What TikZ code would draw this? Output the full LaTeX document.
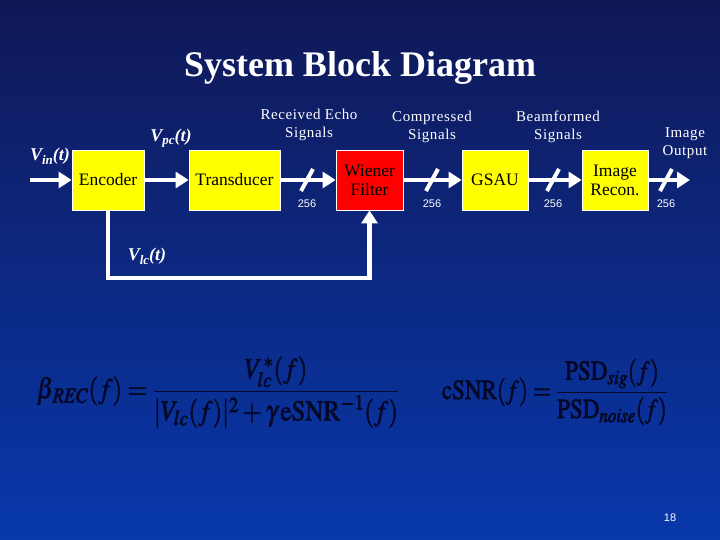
\documentclass[tikz,border=0pt]{standalone}
\usepackage{mathptmx}
\usepackage{amsmath}
\usepackage{fontspec}
\setmainfont{Liberation Serif}
\setsansfont{Liberation Sans}
\usetikzlibrary{arrows.meta}
\usetikzlibrary{calc}
\usetikzlibrary{positioning}

\definecolor{bgtop}{RGB}{16,24,86}
\definecolor{bgmid}{RGB}{10,50,160}
\definecolor{bgbot}{RGB}{8,56,172}
\definecolor{eqink}{RGB}{4,8,40}
\definecolor{blkyellow}{RGB}{255,255,0}
\definecolor{blkred}{RGB}{255,0,0}

% signal name with lowered bold italic index
\newcommand{\vsig}[1]{{\bfseries\itshape V\raisebox{-0.45ex}{\fontsize{13}{13}\selectfont #1}(t)}}
% heavier glyphs for the formulas (fill + stroke)
\newcommand{\heavy}[1]{\special{pdf:code 2 Tr 0.6 w}#1\special{pdf:code 0 Tr}}

\tikzset{
  blk/.style={draw=white, line width=0.8pt, fill=blkyellow, text=black, align=center,
    font=\fontsize{17.5}{19}\selectfont, minimum height=60pt, inner sep=0pt},
  flow/.style={draw=white, line width=4.5pt, line join=miter, -{Triangle[length=13pt,width=16pt]}},
  busmark/.style={draw=white, line width=4pt},
  hdr/.style={text=white, align=center, inner sep=0pt,
    font=\fontsize{15}{18}\selectfont\addfontfeatures{LetterSpace=4}},
  sig/.style={text=white, inner sep=0pt, font=\fontsize{18}{20}\selectfont},
  busnum/.style={text=white, inner sep=0pt, font=\sffamily\fontsize{11}{12}\selectfont},
  eqn/.style={text=eqink, inner sep=0pt}
}

\begin{document}
\begin{tikzpicture}[x=1pt,y=1pt,yscale=-1]
    % background
    \shade[top color=bgtop, middle color=bgmid, bottom color=bgbot] (0,0) rectangle (720,540);

    % Title
    \node[text=white, font=\bfseries\fontsize{36}{40}\selectfont] (title) at (360,68) {System Block Diagram};

    % Blocks
    \node[blk, minimum width=72pt] (enc) at (108,180) {Encoder};
    \node[blk, minimum width=91pt] (trans) at (234.5,180) {Transducer};
    \node[blk, minimum width=67pt, fill=blkred] (wf) at (369.5,180) {Wiener\\Filter};
    \node[blk, minimum width=66pt] (gsau) at (495,180) {GSAU};
    \node[blk, minimum width=66pt] (rec) at (615,180) {Image\\Recon.};

    \coordinate (in) at (30,180);
    \coordinate (out) at (690,180);
    \coordinate (fb) at (108,278);

    % Connectors
    \draw[flow] (in) -- (enc);
    \draw[flow] (enc) -- (trans);
    \draw[flow] (trans) -- (wf);
    \draw[flow] (wf) -- (gsau);
    \draw[flow] (gsau) -- (rec);
    \draw[flow] (rec) -- (out);
    \draw[flow] (enc.south) -- (fb) -- (wf.south |- fb) -- (wf.south);

    % bus width marks
    \foreach \x/\nm in {307/bw1, 432/bw2, 553/bw3, 666/bw4} {
      \draw[busmark] (\x-6,191) -- (\x+6,169);
      \node[busnum] (\nm) at (\x,204) {256};
    }

    % Text Node
    \node[sig] (vin) at (50,156) {\vsig{in}};
    \node[sig] (vpc) at (171,138) {\vsig{pc}};
    \node[sig] (vlc) at (147,256) {\vsig{lc}};

    \node[hdr] (rx) at (309,125) {Received Echo\\Signals};
    \node[hdr] (cmp) at (432,127) {Compressed\\Signals};
    \node[hdr] (bf) at (558,127) {Beamformed\\Signals};
    \node[hdr] (io) at (685,143) {Image\\Output};

    % Equations
    \node[eqn, font=\fontsize{25}{28}\selectfont] (eq1) at (218,392) {\heavy{\scalebox{1}[1.15]{$\beta_{\,\mathit{REC}}(f)=\dfrac{V_{lc}^{\,*}(f)}{|V_{lc}(f)|^{2}+\gamma\,\mathrm{eSNR}^{-1}(f)}$}}};
    \node[eqn, font=\fontsize{23}{26}\selectfont] (eq2) at (555,392) {\heavy{\scalebox{1}[1.2]{$\mathrm{cSNR}(f)=\dfrac{\mathrm{PSD}_{\mathit{sig}}(f)}{\mathrm{PSD}_{\mathit{noise}}(f)}$}}};

    % page number
    \node[busnum] (pg) at (670,518) {18};
\end{tikzpicture}
\end{document}
